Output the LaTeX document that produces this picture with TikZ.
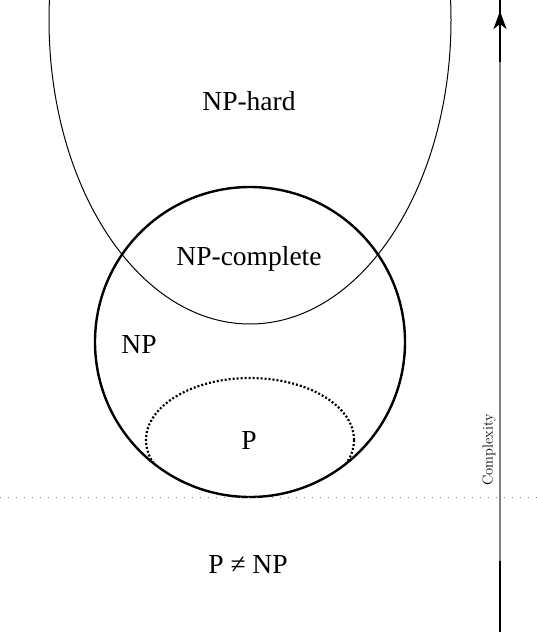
\documentclass[tikz,border=0pt]{standalone}
\usepackage{fontspec}
\newfontfamily\tnr{Liberation Serif}
\usetikzlibrary{arrows.meta}
\begin{document}
\begin{tikzpicture}[x=1pt,y=-1pt,
  lbl/.style={font=\tnr\fontsize{27.5}{31}\selectfont, inner sep=0pt},
  small/.style={font=\fontsize{14.5}{16}\selectfont, inner sep=0pt}]
\useasboundingbox (0,0) rectangle (537,632);
% NP-hard ellipse
\draw[line width=1pt] (250,20) ellipse [x radius=201, y radius=304];
% P ellipse, clipped by NP circle
\begin{scope}
  \clip (250,342) circle [radius=155];
  \draw[line width=2.2pt, dash pattern=on 2pt off 2pt] (250,440) ellipse [x radius=104, y radius=62];
\end{scope}
% NP circle
\draw[line width=2.4pt] (250,342) circle [radius=155];
% horizontal dotted separator
\coordinate (hl) at (0,497);
\coordinate (hr) at (537,497);
\draw[gray, line width=1pt, dash pattern=on 1.2pt off 6.8pt] (hl) -- (hr);
% complexity axis
\coordinate (ab) at (500,632);
\coordinate (at) at (500,0);
\coordinate (gb) at (500,561);
\coordinate (gt) at (500,62);
\coordinate (tipbase) at (500,40);
\coordinate (tip) at (500,11);
\draw[line width=2pt] (ab) -- (at);
\draw[line width=2pt, gray] (gb) -- (gt);
\draw[line width=2pt, -{Stealth[length=18pt, width=13pt, inset=5pt]}] (tipbase) -- (tip);
\node[small, rotate=90] (cx) at (489,450) {Complexity};
% labels
\node[lbl] (nph) at (249,101) {NP-hard};
\node[lbl] (npc) at (249,259) {NP-complete};
\node[lbl] (np) at (139,344) {NP};
\node[lbl] (p) at (249,440) {P};
\node[lbl] (pnp) at (248,564) {P ≠ NP};
\end{tikzpicture}
\end{document}
